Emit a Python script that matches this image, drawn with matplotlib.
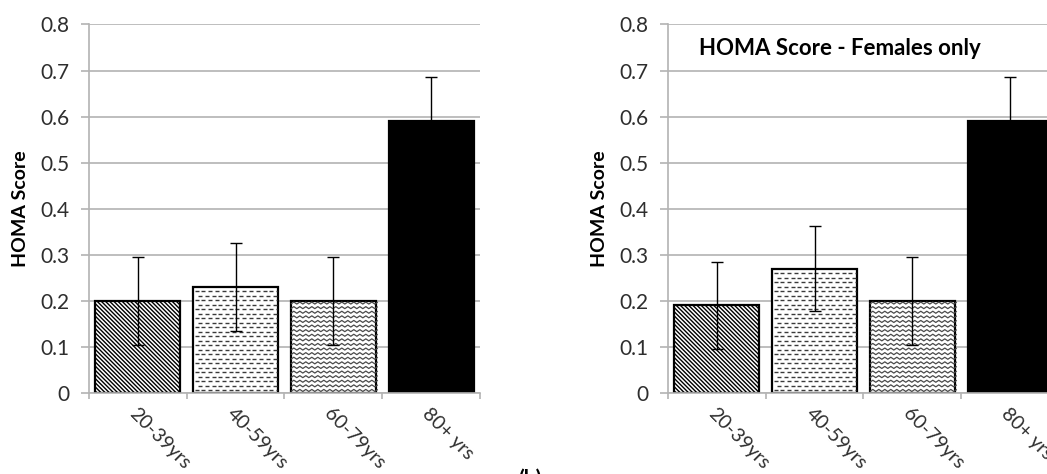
import matplotlib

matplotlib.use("Agg")
import matplotlib.pyplot as plt
import numpy as np
from matplotlib.collections import LineCollection

plt.rcParams["font.family"] = ["Lato", "DejaVu Sans"]
plt.rcParams["hatch.linewidth"] = 1.0

# HOMA score by age group, all subjects and females only
age_groups = ["20-39yrs", "40-59yrs", "60-79yrs", "80+ yrs"]
homa_all = [0.20, 0.23, 0.20, 0.59]
homa_all_err = [0.095, 0.095, 0.095, 0.095]
homa_female = [0.19, 0.27, 0.20, 0.59]
homa_female_err = [0.095, 0.093, 0.095, 0.095]
y_ticks = [0, 0.1, 0.2, 0.3, 0.4, 0.5, 0.6, 0.7, 0.8]

GRID = "#b3b3b3"
TEXT = "#2e2e2e"


def bar_pixels(ax, bar):
    """Corner coordinates of a bar in display pixels."""
    x0, x1 = bar.get_x(), bar.get_x() + bar.get_width()
    (px0, py0), (px1, py1) = ax.transData.transform([(x0, 0), (x1, bar.get_height())])
    return px0, py0, px1, py1


def add_dashes(ax, bar, step=4.5, dash=4.0, gap=2.8):
    """Fill a bar with staggered rows of short horizontal dashes."""
    inv = ax.transData.inverted()
    px0, py0, px1, py1 = bar_pixels(ax, bar)
    segs = []
    row, y = 0, py0 + 2.5
    while y < py1 - 1.5:
        x = px0 + 1.5 + (row % 2) * (dash + gap) / 2
        while x < px1 - 1.5:
            segs.append(inv.transform([(x, y), (min(x + dash, px1 - 1.5), y)]))
            x += dash + gap
        y += step
        row += 1
    lc = LineCollection(segs, colors="#3a3a3a", linewidths=1.0, zorder=2.5)
    lc.set_clip_path(bar)
    ax.add_collection(lc, autolim=False)


def add_zigzag(ax, bar, step=4.6, half_period=3.0, amp=1.0):
    """Fill a bar with rows of small zigzag waves."""
    inv = ax.transData.inverted()
    px0, py0, px1, py1 = bar_pixels(ax, bar)
    segs = []
    y = py0 + 2.5
    while y < py1 - 1.5:
        xs = np.arange(px0, px1 + half_period, half_period)
        ys = y + np.where(np.arange(len(xs)) % 2 == 0, -amp, amp)
        segs.append(inv.transform(np.column_stack([xs, ys])))
        y += step
    lc = LineCollection(segs, colors="#4a4a4a", linewidths=0.9, zorder=2.5)
    lc.set_clip_path(bar)
    ax.add_collection(lc, autolim=False)


def draw_panel(ax, means, errs, title=None):
    x = np.arange(len(age_groups))
    ax.set_xlim(-0.5, len(age_groups) - 0.5)
    ax.set_ylim(0, 0.8)

    bars = ax.bar(x, means, width=0.87, color=["white", "white", "white", "black"],
                  edgecolor="black", linewidth=1.6, zorder=2)
    bars[0].set_hatch("\\" * 8)
    add_dashes(ax, bars[1])
    add_zigzag(ax, bars[2])
    ax.errorbar(x, means, yerr=errs, fmt="none", ecolor="black",
                elinewidth=1.0, capsize=4, capthick=1.0, zorder=4)

    ax.set_axisbelow(True)
    ax.yaxis.grid(True, color=GRID, linewidth=1.2)
    for side in ("top", "right"):
        ax.spines[side].set_visible(False)
    for side in ("left", "bottom"):
        ax.spines[side].set_color(GRID)
        ax.spines[side].set_linewidth(1.2)

    ax.set_yticks(y_ticks, [f"{v:g}" for v in y_ticks])
    ax.tick_params(axis="y", length=6, width=1.2, color=GRID, pad=8,
                   labelsize=15, labelcolor=TEXT)
    ax.set_xticks(np.arange(-0.5, len(age_groups)), [])
    ax.set_xticks(x, age_groups, minor=True, rotation=-45, ha="left",
                  rotation_mode="anchor")
    ax.tick_params(axis="x", which="major", length=4, width=1.2, color=GRID)
    ax.tick_params(axis="x", which="minor", length=0, pad=9,
                   labelsize=14, labelcolor=TEXT)

    ax.set_ylabel("HOMA Score", fontsize=14, fontweight="bold", color="black",
                  labelpad=8)
    if title:
        ax.text(0.079, 0.935, title, transform=ax.transAxes, ha="left",
                va="center", fontsize=16, fontweight="bold")


fig = plt.figure(figsize=(10.47, 4.74), dpi=100)
ax_all = fig.add_axes([0.085, 0.171, 0.3734, 0.7774])
ax_fem = fig.add_axes([0.638, 0.171, 0.3734, 0.7774])

draw_panel(ax_all, homa_all, homa_all_err)
draw_panel(ax_fem, homa_female, homa_female_err, title="HOMA Score - Females only")

fig.text(0.506, 0.012, "(b)", ha="center", va="top", fontsize=15, fontweight="bold")

fig.savefig("out.png", dpi=100)
